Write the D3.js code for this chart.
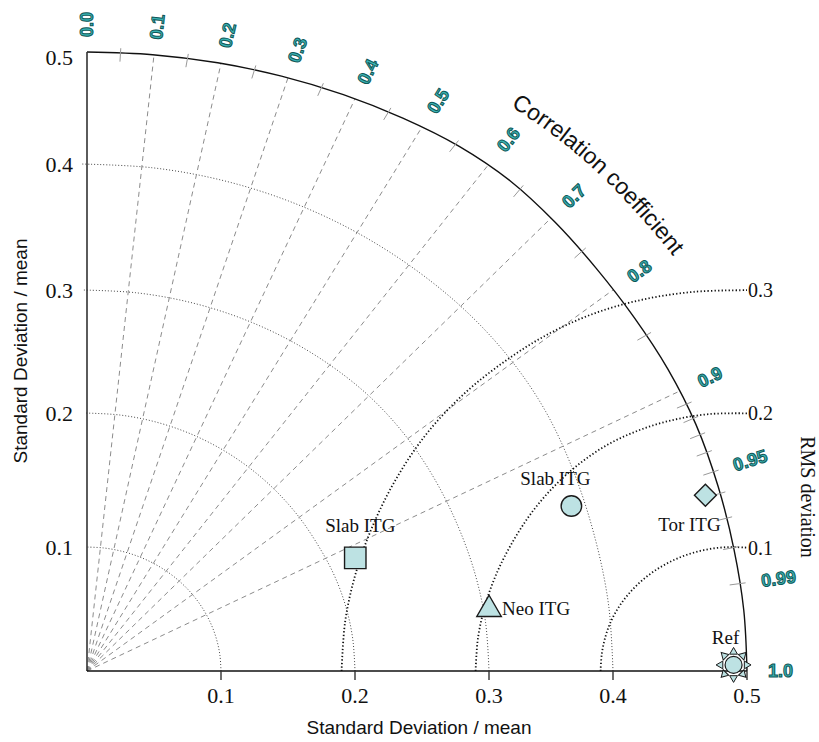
<!DOCTYPE html>
<html>
<head>
<meta charset="utf-8">
<script src="https://cdn.jsdelivr.net/npm/d3@7"></script>
<style>
  html, body { margin: 0; padding: 0; background: #fff; }
  svg { display: block; }
</style>
</head>
<body>
<svg id="chart" width="819" height="742"></svg>
<script>
// ---------------- data ----------------
const stdTicks = [0.1, 0.2, 0.3, 0.4, 0.5];
const stdTickLabels = ["0.1", "0.2", "0.3", "0.4", "0.5"];
const stdArcs = [0.1, 0.2, 0.3, 0.4];
const corrLines = [0.1, 0.2, 0.3, 0.4, 0.5, 0.6, 0.7, 0.8, 0.9];
const corrLabels = [0.0, 0.1, 0.2, 0.3, 0.4, 0.5, 0.6, 0.7, 0.8, 0.9, 0.95, 0.99, 1.0];
const corrLabelText = ["0.0", "0.1", "0.2", "0.3", "0.4", "0.5", "0.6", "0.7", "0.8", "0.9", "0.95", "0.99", "1.0"];
const corrMinorTicks = [0.05, 0.15, 0.25, 0.35, 0.45, 0.55, 0.65, 0.75, 0.85,
  0.91, 0.92, 0.93, 0.94, 0.95, 0.96, 0.97, 0.98, 0.99];
const rmsLevels = [0.1, 0.2, 0.3];
const rmsLabels = ["0.1", "0.2", "0.3"];
const modelNames = ["Slab ITG", "Slab ITG", "Neo ITG", "Tor ITG"];
const modelStd = [0.220, 0.389, 0.304, 0.489];
const modelCorr = [0.910, 0.942, 0.987, 0.959];
const modelShapes = ["square", "circle", "triangle", "diamond"];
const refName = "Ref";
const refStd = 0.49;
const refCorr = 0.99995;

// ---------------- layout / style ----------------
const labelPlacement = [
  { dx: 5, dy: -26, anchor: "middle" },
  { dx: -16, dy: -21, anchor: "middle" },
  { dx: 13, dy: 5, anchor: "start" },
  { dx: -16, dy: 36, anchor: "middle" }
];
const refLabelPlacement = { dx: -8, dy: -21, anchor: "middle" };
const markerFill = "#bde2e3";
const markerStroke = "#1a1a1a";
const corrFill = "#3ab3b3";
const corrStroke = "#0f5757";
const SERIF = "'Liberation Serif', 'Times New Roman', serif";
const SANS = "'Liberation Sans', Arial, sans-serif";

const svg = d3.select("#chart");
const x = d3.scaleLinear().domain([0, 0.1, 0.2, 0.3, 0.4, 0.5]).range([87, 221, 355, 489, 613, 747]);
const y = d3.scaleLinear().domain([0, 0.1, 0.2, 0.3, 0.4, 0.5]).range([671, 547, 413, 290, 164, 52]);
const rMax = 0.5;

const P = (r, th) => [x(r * Math.cos(th)), y(r * Math.sin(th))];
const smooth = d3.line().curve(d3.curveCatmullRom.alpha(0.5));
function arcPts(r, a0, a1, n = 12) {
  return d3.range(n + 1).map(i => P(r, a0 + (a1 - a0) * i / n));
}
function rmsPts(rms, a0, a1, n = 12) {
  return d3.range(n + 1).map(i => {
    const a = a0 + (a1 - a0) * i / n;
    return [x(refStd + rms * Math.cos(a)), y(rms * Math.sin(a))];
  });
}

// std arcs (thin dotted)
svg.append("g").selectAll("path").data(stdArcs).join("path")
  .attr("d", r => smooth(arcPts(r, 0, Math.PI / 2 + 0.01)))
  .attr("fill", "none").attr("stroke", "#333").attr("stroke-width", 0.9)
  .attr("stroke-dasharray", "1,2");

// correlation dashed lines
svg.append("g").selectAll("line").data(corrLines).join("line")
  .each(function (c) {
    const th = Math.acos(c);
    const o = P(0, th), e = P(rMax, th);
    d3.select(this).attr("x1", o[0]).attr("y1", o[1]).attr("x2", e[0]).attr("y2", e[1]);
  })
  .attr("stroke", "#8c8c8c").attr("stroke-width", 1).attr("stroke-dasharray", "5,4");

// RMS arcs (bold dotted)
svg.append("g").selectAll("path").data(rmsLevels).join("path")
  .attr("d", r => smooth(rmsPts(r, Math.PI, Math.acos((rMax - refStd) / r))))
  .attr("fill", "none").attr("stroke", "#111").attr("stroke-width", 1.8)
  .attr("stroke-dasharray", "1.3,2.2");

svg.append("g").selectAll("text").data(rmsLevels).join("text")
  .attr("x", () => x(rMax) + 1)
  .attr("y", r => y(r * Math.sin(Math.acos((rMax - refStd) / r))))
  .attr("dy", "0.35em")
  .attr("font-family", SERIF)
  .attr("font-size", 20).attr("fill", "#111")
  .text((r, i) => rmsLabels[i]);

// outer arc
svg.append("path").attr("d", smooth(arcPts(rMax, 0, Math.PI / 2, 16)))
  .attr("fill", "none").attr("stroke", "#111").attr("stroke-width", 1.4);

// axes
svg.append("line").attr("x1", x(0)).attr("y1", y(0)).attr("x2", x(0)).attr("y2", y(rMax))
  .attr("stroke", "#333").attr("stroke-width", 1.6);
svg.append("line").attr("x1", x(0)).attr("y1", y(0)).attr("x2", x(rMax)).attr("y2", y(0))
  .attr("stroke", "#111").attr("stroke-width", 1.6);

// x ticks
svg.append("g").selectAll("line").data(stdTicks).join("line")
  .attr("x1", d => x(d)).attr("x2", d => x(d)).attr("y1", y(0)).attr("y2", y(0) + 9)
  .attr("stroke", "#333").attr("stroke-width", 1.4);
svg.append("g").selectAll("text").data(stdTicks).join("text")
  .attr("x", d => x(d)).attr("y", y(0) + 32)
  .attr("text-anchor", "middle")
  .attr("font-family", SERIF)
  .attr("font-size", 22).attr("fill", "#111")
  .text((d, i) => stdTickLabels[i]);
// y tick labels
svg.append("g").selectAll("text").data(stdTicks).join("text")
  .attr("x", x(0) - 14).attr("y", d => y(d))
  .attr("dy", (d, i) => i === stdTicks.length - 1 ? "0.6em" : "0.35em")
  .attr("text-anchor", "end")
  .attr("font-family", SERIF)
  .attr("font-size", 22).attr("fill", "#111")
  .text((d, i) => stdTickLabels[i]);

// correlation ticks on outer arc
svg.append("g").selectAll("line").data(corrMinorTicks).join("line")
  .each(function (c) {
    const th = Math.acos(c);
    const a = P(rMax - 0.008, th), b = P(rMax + 0.004, th);
    d3.select(this).attr("x1", a[0]).attr("y1", a[1]).attr("x2", b[0]).attr("y2", b[1]);
  })
  .attr("stroke", "#999").attr("stroke-width", 1);

// correlation labels
svg.append("g").selectAll("text").data(corrLabels).join("text")
  .each(function (c) {
    const th = Math.acos(c);
    const o = P(0, th), e = P(rMax, th);
    const vx = e[0] - o[0], vy = e[1] - o[1];
    const len = Math.hypot(vx, vy);
    const ux = vx / len, uy = vy / len;
    const off = 15 + 6 * c;
    const px = e[0] + ux * off, py = e[1] + uy * off;
    const ang = Math.atan2(uy, ux) * 180 / Math.PI;
    d3.select(this).attr("transform", `translate(${px},${py}) rotate(${ang})`);
  })
  .attr("dy", "0.35em")
  .attr("text-anchor", "start")
  .attr("font-family", SANS)
  .attr("font-size", 18).attr("font-weight", "bold")
  .attr("fill", corrFill).attr("stroke", corrStroke).attr("stroke-width", 1)
  .text((c, i) => corrLabelText[i]);

// "Correlation coefficient" along arc
const titleMid = 45.5 * Math.PI / 180;
const titlePath = arcPts(0.552, titleMid + 0.6, titleMid - 0.6, 16);
svg.append("defs").append("path").attr("id", "corrTitlePath").attr("d", smooth(titlePath));
svg.append("text")
  .attr("font-family", SANS)
  .attr("font-size", 23).attr("fill", "#111")
  .append("textPath").attr("href", "#corrTitlePath")
  .attr("startOffset", "50%").attr("text-anchor", "middle")
  .text("Correlation coefficient");

// axis titles
svg.append("text").attr("x", 419).attr("y", 734).attr("text-anchor", "middle")
  .attr("font-family", SANS).attr("font-size", 19).attr("fill", "#111")
  .text("Standard Deviation / mean");
svg.append("text").attr("transform", "translate(27,351) rotate(-90)").attr("text-anchor", "middle")
  .attr("font-family", SANS).attr("font-size", 19).attr("fill", "#111")
  .text("Standard Deviation / mean");
svg.append("text").attr("transform", "translate(801,497) rotate(90)").attr("text-anchor", "middle")
  .attr("font-family", SERIF).attr("font-size", 20).attr("fill", "#111")
  .text("RMS deviation");

// markers
const symSize = { square: 460, circle: 330, triangle: 260, diamond: 240 };
const symType = { square: d3.symbolSquare, circle: d3.symbolCircle, triangle: d3.symbolTriangle, diamond: d3.symbolSquare };
const mg = svg.append("g");
modelStd.forEach((s, i) => {
  const p = P(s, Math.acos(modelCorr[i]));
  const shp = modelShapes[i];
  const rot = shp === "diamond" ? 45 : 0;
  const ty = shp === "triangle" ? -1 : 0;
  mg.append("path")
    .attr("d", d3.symbol().type(symType[shp]).size(symSize[shp])())
    .attr("transform", `translate(${p[0]},${p[1] + ty}) rotate(${rot})`)
    .attr("fill", markerFill).attr("stroke", markerStroke).attr("stroke-width", 1.4);
  const lp = labelPlacement[i];
  mg.append("text").attr("x", p[0] + lp.dx).attr("y", p[1] + lp.dy)
    .attr("text-anchor", lp.anchor)
    .attr("font-family", SERIF)
    .attr("font-size", 19).attr("fill", "#111")
    .text(modelNames[i]);
});

// reference marker (circle with surrounding small triangles)
const rp = P(refStd, Math.acos(refCorr));
const rg = svg.append("g").attr("transform", `translate(${rp[0]},${rp[1]})`);
d3.range(8).forEach(k => {
  const a = k * 45;
  rg.append("path")
    .attr("d", d3.symbol().type(d3.symbolTriangle).size(26)())
    .attr("transform", `rotate(${a + 90}) translate(0,-13)`)
    .attr("fill", markerFill).attr("stroke", markerStroke).attr("stroke-width", 1);
});
rg.append("circle").attr("r", 8.5).attr("fill", markerFill).attr("stroke", markerStroke).attr("stroke-width", 1.2);
svg.append("text").attr("x", rp[0] + refLabelPlacement.dx).attr("y", rp[1] + refLabelPlacement.dy)
  .attr("text-anchor", refLabelPlacement.anchor)
  .attr("font-family", SERIF)
  .attr("font-size", 19).attr("fill", "#111")
  .text(refName);
</script>
</body>
</html>
